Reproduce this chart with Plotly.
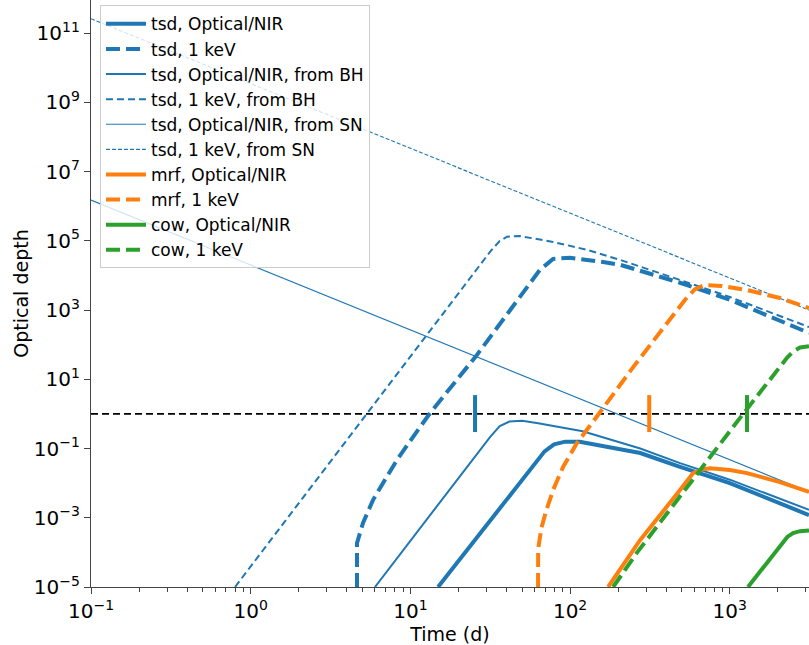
import plotly.graph_objects as go

# ---------------- data ----------------
# tsd, Optical/NIR (total)
tsd_opt_t = [14.9, 48.5, 60.3, 69.2, 79.4, 93.3, 115, 275, 488, 1000, 3133]
tsd_opt_tau = [1e-5, 1.0e-2, 3.55e-2, 8.3e-2, 0.132, 0.158, 0.158, 0.0741, 0.0295, 0.01, 1.2e-3]

# tsd, 1 keV (total)
tsd_x_t = [4.63, 4.63, 5.05, 5.83, 6.73, 8.24, 10.4, 13.3, 26.1, 48.5, 64.7, 78.2, 99.8, 161, 206, 488, 1000, 3133]
tsd_x_tau = [1e-5, 1.86e-4, 7.08e-4, 3.24e-3, 0.01, 0.0468, 0.219, 1.07, 50.7, 2240, 14500, 30200, 32400, 24500, 20400, 6170, 2000, 219]

# tsd, Optical/NIR, from BH
tsd_opt_bh_t = [6.0, 23.6, 31.6, 36.3, 41.7, 50.1, 63.1, 120, 275, 488, 1000, 3133]
tsd_opt_bh_tau = [1e-5, 0.038, 0.219, 0.447, 0.603, 0.631, 0.537, 0.316, 0.1, 0.038, 0.0126, 1.7e-3]

# tsd, 1 keV, from BH
tsd_x_bh_t = [0.798, 5.35, 18.5, 31.6, 36.3, 40.3, 48.5, 78.2, 128, 206, 488, 1000, 3133]
tsd_x_bh_tau = [1e-5, 1.0, 1950, 49000, 1.0e5, 1.32e5, 1.38e5, 93300, 55000, 28200, 7410, 2400, 324]

# tsd, Optical/NIR, from SN
tsd_opt_sn_t = [0.1, 3133]
tsd_opt_sn_tau = [1.51e6, 5.6e-3]

# tsd, 1 keV, from SN
tsd_x_sn_t = [0.1, 3133]
tsd_x_sn_tau = [2.63e11, 1000]

# mrf, Optical/NIR
mrf_opt_t = [173, 275, 488, 589, 676, 752, 1000, 1282, 2061, 3133]
mrf_opt_tau = [1e-5, 2.29e-4, 6.3e-3, 0.0195, 0.0251, 0.0269, 0.024, 0.0195, 0.0107, 5.6e-3]

# mrf, 1 keV
mrf_x_t = [63.0, 63.1, 66.1, 70.8, 78.2, 90.4, 110, 133, 154, 251, 398, 525, 603, 692, 891, 1282, 2061, 3133]
mrf_x_tau = [1e-5, 1.26e-4, 5.0e-4, 1.58e-3, 6.3e-3, 0.0295, 0.141, 0.447, 1.12, 24, 398, 2000, 3980, 5250, 5010, 3800, 2240, 1150]

# cow, Optical/NIR
cow_opt_t = [1300, 2061, 2291, 2489, 2754, 3133]
cow_opt_tau = [1e-5, 1.45e-4, 2.8e-4, 3.6e-4, 4.1e-4, 4.3e-4]

# cow, 1 keV
cow_x_t = [186, 263, 1211, 1995, 2280, 2512, 2754, 3133]
cow_x_tau = [1e-5, 1e-4, 1.0, 20, 41.7, 66, 83, 91]

# tau = 1 threshold
threshold_t = [0.1, 3133]
threshold_tau = [1.0, 1.0]

# vertical tick markers
marker_times = [25.4, 313, 1282]
marker_tau_lo = [0.30, 0.30, 0.30]
marker_tau_hi = [3.5, 3.5, 3.5]

x_tick_vals = [0.1, 1, 10, 100, 1000]
x_tick_text = ["10<sup>−1</sup>", "10<sup>0</sup>", "10<sup>1</sup>", "10<sup>2</sup>", "10<sup>3</sup>"]
y_tick_vals = [1e-5, 1e-3, 1e-1, 1e1, 1e3, 1e5, 1e7, 1e9, 1e11]
y_tick_text = ["10<sup>−5</sup>", "10<sup>−3</sup>", "10<sup>−1</sup>", "10<sup>1</sup>", "10<sup>3</sup>",
               "10<sup>5</sup>", "10<sup>7</sup>", "10<sup>9</sup>", "10<sup>11</sup>"]

# ---------------- styling ----------------
BLUE = "#1f77b4"
ORANGE = "#ff7f0e"
GREEN = "#2ca02c"
FONT = "DejaVu Sans"

series = [
    ("tsd, Optical/NIR", tsd_opt_t, tsd_opt_tau, BLUE, 4, "solid"),
    ("tsd, 1 keV", tsd_x_t, tsd_x_tau, BLUE, 4, "14px,6px"),
    ("tsd, Optical/NIR, from BH", tsd_opt_bh_t, tsd_opt_bh_tau, BLUE, 2, "solid"),
    ("tsd, 1 keV, from BH", tsd_x_bh_t, tsd_x_bh_tau, BLUE, 2, "7px,4px"),
    ("tsd, Optical/NIR, from SN", tsd_opt_sn_t, tsd_opt_sn_tau, BLUE, 1.1, "solid"),
    ("tsd, 1 keV, from SN", tsd_x_sn_t, tsd_x_sn_tau, BLUE, 1.1, "4px,2px"),
    ("mrf, Optical/NIR", mrf_opt_t, mrf_opt_tau, ORANGE, 4, "solid"),
    ("mrf, 1 keV", mrf_x_t, mrf_x_tau, ORANGE, 4, "14px,6px"),
    ("cow, Optical/NIR", cow_opt_t, cow_opt_tau, GREEN, 4, "solid"),
    ("cow, 1 keV", cow_x_t, cow_x_tau, GREEN, 4, "14px,6px"),
]

fig = go.Figure()

fig.add_trace(go.Scatter(x=threshold_t, y=threshold_tau, mode="lines",
                         line=dict(color="black", width=1.7, dash="7px,4px"),
                         showlegend=False, hoverinfo="skip"))

for i, (name, t, tau, color, width, dash) in enumerate(series):
    fig.add_trace(go.Scatter(x=t, y=tau, mode="lines", name=name,
                             line=dict(color=color, width=width, dash=dash)))

for t, lo, hi, color in zip(marker_times, marker_tau_lo, marker_tau_hi, [BLUE, ORANGE, GREEN]):
    fig.add_trace(go.Scatter(x=[t, t], y=[lo, hi], mode="lines",
                             line=dict(color=color, width=4),
                             showlegend=False, hoverinfo="skip"))

axis_common = dict(
    showline=True, linecolor="#444", linewidth=1.2, mirror=False,
    showgrid=False, zeroline=False, ticks="outside", ticklen=6, tickwidth=1.2,
    tickcolor="#444", tickfont=dict(family=FONT, size=20, color="black"),
)

fig.update_xaxes(
    type="log", range=[-1, 3.496], tickmode="array",
    tickvals=x_tick_vals, ticktext=x_tick_text,
    title=dict(text="Time (d)", font=dict(family=FONT, size=19, color="black"), standoff=0),
    minor=dict(ticks="outside", ticklen=3.5, tickwidth=1, tickcolor="#444",
               tickvals=[m * d for d in [0.1, 1, 10, 100, 1000] for m in range(2, 10)]),
    automargin=False,
    **axis_common,
)
fig.update_yaxes(
    type="log", range=[-5, 11.96], tickmode="array",
    tickvals=y_tick_vals, ticktext=y_tick_text,
    title=dict(text="Optical depth", font=dict(family=FONT, size=19, color="black"), standoff=0),
    automargin=False,
    **axis_common,
)

fig.update_layout(
    width=809, height=645,
    margin=dict(l=91, r=0, t=0, b=58),
    paper_bgcolor="white", plot_bgcolor="white",
    font=dict(family=FONT, color="black"),
    legend=dict(x=0.0125, y=0.991, xanchor="left", yanchor="top",
                bgcolor="rgba(255,255,255,0.8)", bordercolor="#cccccc", borderwidth=1,
                font=dict(family=FONT, size=17, color="black"),
                itemwidth=40),
    showlegend=True,
)

fig.write_html("out.html", config={"displayModeBar": False},
               post_script="document.body.style.margin='0';document.body.style.padding='0';")
